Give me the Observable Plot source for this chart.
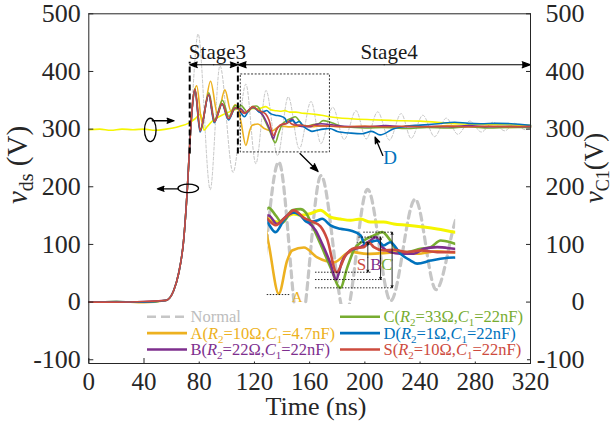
<!DOCTYPE html>
<html><head><meta charset="utf-8">
<script src="https://cdn.jsdelivr.net/npm/d3@7"></script>
<script src="https://cdn.jsdelivr.net/npm/@observablehq/plot@0.6"></script>
<style>
html,body{margin:0;padding:0;background:#fff;}
#wrap{position:relative;width:616px;height:428px;overflow:hidden;background:#fff;}
#wrap svg{position:absolute;left:0;top:0;}
#wrap text{font-family:"Liberation Serif","Times New Roman",Times,"DejaVu Serif",serif !important;}
</style></head><body><div id="wrap"></div>
<script>
// ---------------- data ----------------
const xTicks = [0,40,80,120,160,200,240,280,320];
const yTicks = [-100,0,100,200,300,400,500];

const tNormal = [0,20,40,56,61.5,65.1,68.7,71.4,73.3,75,79.2,88,95,104.5,113.8,121,128.4,136.8,144.5,152.5,161,168.2,176.7,185,193.6,201,209.3,217.8,226.3,233.5,242,250.5,259,267.4,276,284.4,292.8,301.3,308.5,316,320];
const vNormal = [0,1,0,3,20,50,107,197,280,350,465,195,410,225,378,240,367,254,356,266,348,275,338,282,332,283,330,281,327,284,324,287,319,291,314,295,312,297,310,299,302];

const tA = [0,20,40,56,61.5,65.1,68.7,71.4,73.3,75,78.2,82,88.2,93.3,98.6,103,106,108,110.3,113.8,116.7,118.4,122.5,127.1,132.8,138.6,144.4,150.1,155.9,161.7,168.6,174.4,185,200,215,230,245,260,275,290,305,320];
const vA = [0,1,-1,3,20,50,107,197,280,340,375,312,383,325,368,331,342,337,312,271.7,298.5,306.6,309,301,297,305.5,303.9,304.5,305.3,304,306,305,304,305,303,305,304,306,304,305,303,304];

const tB = [0,20,40,56,61.5,65.1,68.7,71.4,73.3,75,76.9,80.7,86.9,91,96.6,101.3,106,108.5,110.3,113.2,116.7,119.6,123,126.5,128.8,131.7,133.6,135.7,138.6,142.1,145.5,147.3,149.6,152.4,155.9,160.5,164,168.6,174.4,185,200,215,230,245,260,275,290,305,320];
const vB = [0,0,1,3,20,50,107,197,280,340,368,298,360,313,344,318,337,335,334.8,328,334.8,337.5,331,323,312,296,283.2,298,306.6,309.3,314.7,317.4,309.3,305.3,304,304,308,309.3,308,305,304,306,304,305,304,306,304,305,304];

const tC = [0,20,40,56,61.5,65.1,68.7,71.4,73.3,75,76.9,80.8,87,91.2,96.8,101.5,106,108.5,110.3,112.7,115,118.4,121.3,123.2,125.3,128.2,131.7,135.1,137.5,139.8,143.2,146.7,149.6,152.4,154.8,158.2,162.8,166.3,169.8,173.2,176,185,200,215,230,245,260,275,290,305,320];
const vC = [0,1,0,3,20,50,107,197,280,340,370,300,363,316,350,322,341,338,341,335,329,339,340,337,327,312,293,276.5,293,307,314.7,318.7,321.4,314.7,306.6,305.3,308,309.3,314.7,313.3,311,304,302,303,301,303,302,304,302,303,303];

const tD = [0,20,40,56,61.5,65.1,68.7,71.4,73.3,75,76.9,80.6,86.9,90.8,96.5,101.2,106,108.5,110.3,112.7,115.5,118.4,121.3,123.6,127.1,128.8,131.7,135.1,138.6,142.1,143.8,145.5,147.8,150.1,152.4,155.9,159.4,161.7,166.3,169.7,174.4,180,190,198,205,211,221,229,240,253,265,275,284,295,306,320];
const vD = [0,1,0,3,20,50,107,197,280,338,367,295,359,311,343,316,336,336,328,321.4,330.8,337.5,334.9,329.5,330.8,332.2,326.8,324.1,322.7,318.7,310.7,313.3,314.7,310.7,313.3,303.9,298.5,296,298.5,300,301,296,293,292,296,290,300.7,304.7,307,309.4,312,310,309.4,310,309.4,306.5];

const tS = [0,20,40,56,61.5,65.1,68.7,71.4,73.3,75,76.9,80.7,86.9,91,96.6,101.3,106,108.5,110.3,112.7,116,119,122.5,125.3,128.2,130.5,133.8,136.9,139.8,143.2,144.9,146.7,150.1,153.6,158.2,162.8,168.6,174.4,185,200,215,230,245,260,275,290,305,320];
const vS = [0,0,1,3,20,50,107,197,280,340,369,297,360,313,344,318,337,336,331,327,333,339,333,330,326,316,289.1,302.6,308.5,309.3,313.3,309.3,306.6,307.2,305.3,306.6,305.3,305.3,304,305,304,305,304,305,304,305,304,305];

const tVc1 = [0,8,16,24,32,40,48,56,61,66,72,77,81,83.5,86,90,98,104,108,110.3,113.8,115.5,119,121.3,124.2,128.2,131.7,135.1,138.6,142.1,145.5,150.1,153.6,158.2,164,168.6,174.4,190,204.5,220,240,265,290,320];
const vVc1 = [299,300,298,300,299,300,298,300,302,305,310,318,326,298,305,315,326,332,335,332,329.5,332,336,335,336,339,333.5,332,331,332,329.5,329.5,328,327,325.5,324,321.5,318,316.3,315,313.9,309.4,308,306.5];

// legend text
const seriesKeys = ["A","B","C","D","S"];
const r2Labels = ["10","22","33","1","10"];
const c1Labels = ["4.7","22","22","22","22"];

// annotations (data coordinates)
const stageBounds = [73.1, 108];
const stageLabels = [{t:93.2, v:433, label:"Stage3"}, {t:217.6, v:433, label:"Stage4"}];
const stageArrows = [
  {t1:90.5, t2:73.1, v:411.6}, {t1:90.5, t2:108, v:411.6},
  {t1:214, t2:108, v:411.6}, {t1:214, t2:320, v:411.6}
];
const zoomBox = [{t1:110.1, t2:174.7, v1:259.6, v2:394.8}];
const pointerArrows = [
  {t1:64.9, v1:196.4, t2:49.7, v2:196.4},
  {t1:46, v1:314.5, t2:61.7, v2:314.5},
  {t1:153, v1:257.8, t2:166.1, v2:226.5},
  {t1:213, v1:254.4, t2:207.4, v2:286}
];
const markerEllipses = [{t:72.4, v:196.4, rx:10.3, ry:4.2}, {t:44.9, v:297.7, rx:5.8, ry:11.7}];
const dLabel = [{t:218.3, v:250.8, label:"D"}];

const insetT = [110, 175];
const insetV = [200, 395];
const annotLevels = [
  {t1:109.8, t2:117.8, v:271.1},
  {t1:126.5, t2:146.1, v:289.1},
  {t1:126.5, t2:149.6, v:283.2},
  {t1:126.5, t2:153.0, v:276.5},
  {t1:140.9, t2:146.1, v:313.3},
  {t1:141.5, t2:150.1, v:317.4},
  {t1:143.2, t2:153.6, v:321.4}
];
const annotArrows = [
  {t:144.6, lo:289.1, hi:313.3},
  {t:149.0, lo:283.2, hi:317.4},
  {t:153.0, lo:276.5, hi:321.4}
];
const annotLabels = [
  {t:142.4, v:295.3, label:"S", key:"S"},
  {t:147.4, v:295.3, label:"B", key:"B"},
  {t:151.2, v:295.3, label:"C", key:"C"},
  {t:120.2, v:268.9, label:"A", key:"A"}
];

// ---------------- styling ----------------
const colors = {Normal:"#c6c6c6", vC1:"#f5f500", A:"#EDB120", B:"#7E2F8E", C:"#77AC30", D:"#0072BD", S:"#CD4B3E"};
const FONT = '"Liberation Serif","Times New Roman",Times,"DejaVu Serif",serif';
const W = 616, H = 428;
const X0 = 88.3, X1 = 530, Y0 = 13.3, Y1 = 363;
const IX0 = 267.3, IX1 = 455.2, IY0 = 140.4, IY1 = 382.2;

const mk = (t, v) => t.map((d, i) => ({t: d, v: v[i]}));
const curves = [
  {key:"Normal", data:mk(tNormal,vNormal), w:1, dash:"3,2", wi:3.2, dashi:"7,5"},
  {key:"vC1", data:mk(tVc1,vVc1), w:1.6, wi:3},
  {key:"A", data:mk(tA,vA), w:1.6, wi:2.6},
  {key:"C", data:mk(tC,vC), w:1.6, wi:2.6},
  {key:"B", data:mk(tB,vB), w:1.6, wi:2.6},
  {key:"D", data:mk(tD,vD), w:1.6, wi:2.6},
  {key:"S", data:mk(tS,vS), w:1.6, wi:2.6}
];

const main = Plot.plot({
  width: W, height: H,
  marginLeft: X0, marginRight: W - X1, marginTop: Y0, marginBottom: H - Y1,
  style: {fontFamily: FONT, background: "#fff", color: "#262626", overflow: "visible"},
  x: {domain: [0, 320]},
  y: {domain: [-106.5, 500]},
  marks: [
    ...curves.map(c => Plot.line(c.data, {x:"t", y:"v", curve:"monotone-x", stroke:colors[c.key], strokeWidth:c.w, strokeDasharray:c.dash})),
    Plot.rect(zoomBox, {x1:"t1", x2:"t2", y1:"v1", y2:"v2", fill:"none", stroke:"#333", strokeWidth:1, strokeDasharray:"2,1.6"}),
    Plot.ruleX(stageBounds, {x:d=>d, y1:257, y2:416, stroke:"#000", strokeWidth:2, strokeDasharray:"6,3"}),
    Plot.arrow(stageArrows, {x1:"t1", x2:"t2", y1:"v", y2:"v", stroke:"#000", fill:"#000", strokeWidth:1.2, headLength:11, headAngle:40}),
    Plot.text(stageLabels, {x:"t", y:"v", text:"label", fontSize:21, fill:"#1a1a1a", lineAnchor:"middle"}),
    Plot.arrow(pointerArrows, {x1:"t1", y1:"v1", x2:"t2", y2:"v2", stroke:"#000", fill:"#000", strokeWidth:1.3, headLength:10, headAngle:40}),
    Plot.text(dLabel, {x:"t", y:"v", text:"label", fontSize:19, fill:colors.D, lineAnchor:"middle"}),
    Plot.frame({stroke:"#262626", strokeWidth:1}),
    Plot.axisX({ticks:xTicks, tickSize:0, tickPadding:9, fontSize:25, label:null, tickFormat:d=>String(d)}),
    Plot.axisX({ticks:xTicks, tickSize:5, dy:-5, tickFormat:()=>"", label:null}),
    Plot.axisY({anchor:"left", ticks:yTicks, tickSize:0, tickPadding:8, fontSize:26, label:null, tickFormat:d=>String(d)}),
    Plot.axisY({anchor:"left", ticks:yTicks, tickSize:5, dx:5, tickFormat:()=>"", label:null}),
    Plot.axisY({anchor:"right", ticks:yTicks, tickSize:0, tickPadding:54, textAnchor:"end", fontSize:26, label:null, tickFormat:d=>String(d)}),
    Plot.axisY({anchor:"right", ticks:yTicks, tickSize:5, dx:-5, tickFormat:()=>"", label:null})
  ]
});

const wrap = document.getElementById("wrap");
wrap.appendChild(main);

// ellipse markers and axis titles in the main svg
const sx = main.scale("x"), sy = main.scale("y");
const ms = d3.select(main);
markerEllipses.forEach(m => {
  ms.append("ellipse").attr("cx", sx.apply(m.t)).attr("cy", sy.apply(m.v))
    .attr("rx", m.rx).attr("ry", m.ry).attr("fill","none").attr("stroke","#000").attr("stroke-width",1.3);
});
function label(svg, x, y, rot, size, parts) {
  const t = svg.append("text").attr("transform", `translate(${x},${y})` + (rot ? ` rotate(${rot})` : ""))
    .attr("text-anchor","middle").attr("font-size", size).attr("fill","#262626");
  parts.forEach(p => {
    const s = t.append("tspan").text(p.text);
    if (p.italic) s.attr("font-style","italic");
    if (p.size) s.attr("font-size", p.size);
    if (p.dy) s.attr("dy", p.dy);
  });
  return t;
}
label(ms, 27, 165, -90, 29, [{text:"v", italic:true}, {text:"ds", size:20, dy:6}, {text:" (V)", dy:-6}]);
label(ms, 603, 168, -90, 27, [{text:"v", italic:true}, {text:"C1", size:18, dy:6}, {text:"(V)", dy:-6}]);
label(ms, 316, 415, 0, 26, [{text:"Time (ns)"}]);

// ---------------- inset (zoomed view of the dotted box) ----------------
const inset = Plot.plot({
  width: W, height: H,
  marginLeft: IX0, marginRight: W - IX1, marginTop: IY0, marginBottom: H - IY1,
  style: {fontFamily: FONT, background: "none", overflow: "visible"},
  x: {domain: insetT, axis: null},
  y: {domain: insetV, axis: null},
  marks: [
    ...curves.map(c => Plot.line(c.data, {x:"t", y:"v", curve:"monotone-x", stroke:colors[c.key], strokeWidth:c.wi, strokeDasharray:c.dashi, clip:true})),
    Plot.ruleY(annotLevels, {y:"v", x1:"t1", x2:"t2", stroke:"#111", strokeWidth:0.9, strokeDasharray:"1.5,1.5"}),
    Plot.arrow(annotArrows, {x1:"t", x2:"t", y1:d=>(d.lo+d.hi)/2, y2:"lo", stroke:"#111", fill:"#111", strokeWidth:0.9, headLength:4, headAngle:45}),
    Plot.arrow(annotArrows, {x1:"t", x2:"t", y1:d=>(d.lo+d.hi)/2, y2:"hi", stroke:"#111", fill:"#111", strokeWidth:0.9, headLength:4, headAngle:45}),
    Plot.text(annotLabels, {x:"t", y:"v", text:"label", fill:d=>colors[d.key], fontSize:d=>d.key==="A"?15:17, lineAnchor:"middle"})
  ]
});
inset.style.pointerEvents = "none";
wrap.appendChild(inset);

// ---------------- legend ----------------
const lg = d3.create("svg").attr("width", W).attr("height", H).style("pointer-events","none");
lg.append("rect").attr("x",145).attr("y",304).attr("width",382).attr("height",57.5).attr("fill","#fff");
const colX = [147, 340];
const rowY = [322.3, 338.6, 355];
const layout = [["Normal",0,0],["A",0,1],["B",0,2],["C",1,0],["D",1,1],["S",1,2]];
layout.forEach(([key, col, row]) => {
  const x0 = colX[col], y = rowY[row], c = colors[key];
  lg.append("line").attr("x1", x0).attr("x2", x0 + 40).attr("y1", y - 5.5).attr("y2", y - 5.5)
    .attr("stroke", c).attr("stroke-width", 2.6).attr("stroke-dasharray", key === "Normal" ? "9,5" : null);
  const tx = lg.append("text").attr("x", x0 + 43.5).attr("y", y).attr("font-size", 16.5)
    .attr("fill", key === "Normal" ? "#bdbdbd" : c);
  if (key === "Normal") { tx.text("Normal"); return; }
  const i = seriesKeys.indexOf(key);
  tx.append("tspan").text(key + "(");
  tx.append("tspan").attr("font-style","italic").text("R");
  tx.append("tspan").attr("font-size",11).attr("dy",4).text("2");
  tx.append("tspan").attr("dy",-4).text("=" + r2Labels[i] + "Ω,");
  tx.append("tspan").attr("font-style","italic").text("C");
  tx.append("tspan").attr("font-size",11).attr("dy",4).text("1");
  tx.append("tspan").attr("dy",-4).text("=" + c1Labels[i] + "nF)");
});
wrap.appendChild(lg.node());
d3.selectAll("#wrap text").attr("font-family", FONT);
</script></body></html>
